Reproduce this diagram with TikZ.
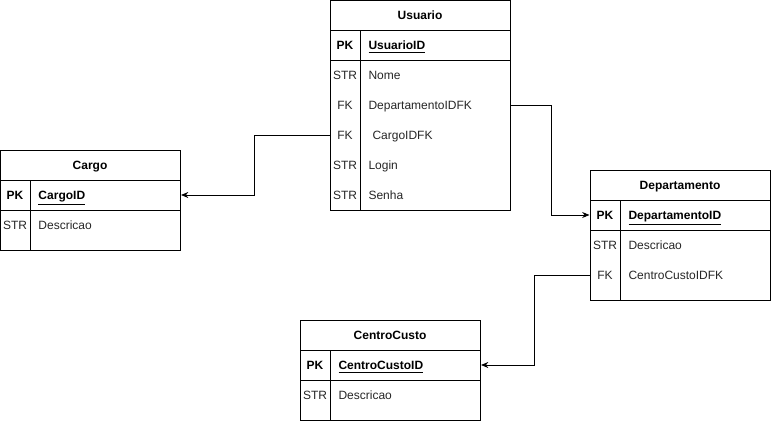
\documentclass[tikz,border=0pt]{standalone}
\usepackage{fontspec}
\setmainfont{Liberation Sans}
\usepackage{tikz}
\usetikzlibrary{positioning,calc,arrows.meta}

\tikzset{
  keycell/.style={minimum width=22.5pt, minimum height=22.5pt, inner sep=0pt, text height=7.7pt, text depth=0.5pt, text=black!85, font=\fontsize{9pt}{10pt}\selectfont},
  pkcell/.style={keycell, text=black, font=\fontsize{9pt}{10pt}\selectfont\bfseries},
  fieldcell/.style={minimum height=22.5pt, inner xsep=6pt, inner ysep=0pt, text height=7.7pt, text depth=0.5pt, text width=100.5pt, align=left, text=black!85, font=\fontsize{9pt}{10pt}\selectfont},
  pkfield/.style={fieldcell, text=black, font=\fontsize{9pt}{10pt}\selectfont\bfseries},
  titlecell/.style={minimum width=135pt, minimum height=22.5pt, inner sep=0pt, text height=7.7pt, text depth=0.5pt, font=\fontsize{9pt}{10pt}\selectfont\bfseries},
  fk/.style={line width=0.75pt, -{Stealth[length=5.5pt,width=4.5pt]}}
}

\begin{document}
\begin{tikzpicture}[x=0.75pt, y=-0.75pt, line width=0.75pt]
  \useasboundingbox (0,0) rectangle (771,421);

  % Usuario
  \draw (330.5,0.5) rectangle (510,210);
  \draw (330.5,30) -- (510,30);
  \draw (330.5,60) -- (510,60);
  \draw (360,30) -- (360,210);
  \node[titlecell] (u-title) at (420,15) {Usuario};
  \node[pkcell] (u-pk-k) at (345,45) {PK};
  \node[pkfield, anchor=west] (u-pk) at (360,45) {\underline{UsuarioID}};
  \node[keycell] (u-nome-k) at (345,75) {STR};
  \node[fieldcell, anchor=west] (u-nome) at (360,75) {Nome};
  \node[keycell] (u-depto-k) at (345,105) {FK};
  \node[fieldcell, anchor=west] (u-depto) at (360,105) {DepartamentoIDFK};
  \node[keycell] (u-cargo-k) at (345,135) {FK};
  \node[fieldcell, anchor=west] (u-cargo) at (360,135) {\ CargoIDFK};
  \node[keycell] (u-login-k) at (345,165) {STR};
  \node[fieldcell, anchor=west] (u-login) at (360,165) {Login};
  \node[keycell] (u-senha-k) at (345,195) {STR};
  \node[fieldcell, anchor=west] (u-senha) at (360,195) {Senha};

  % Cargo
  \draw (0.5,150.5) rectangle (180,250);
  \draw (0.5,180) -- (180,180);
  \draw (0.5,210) -- (180,210);
  \draw (30,180) -- (30,250);
  \node[titlecell] (c-title) at (90,165) {Cargo};
  \node[pkcell] (c-pk-k) at (15,195) {PK};
  \node[pkfield, anchor=west] (c-pk) at (30,195) {\underline{CargoID}};
  \node[keycell] (c-desc-k) at (15,225) {STR};
  \node[fieldcell, anchor=west] (c-desc) at (30,225) {Descricao};

  % Departamento
  \draw (590.5,170.5) rectangle (770,300);
  \draw (590.5,200) -- (770,200);
  \draw (590.5,230) -- (770,230);
  \draw (620,200) -- (620,300);
  \node[titlecell] (d-title) at (680,185) {Departamento};
  \node[pkcell] (d-pk-k) at (605,215) {PK};
  \node[pkfield, anchor=west] (d-pk) at (620,215) {\underline{DepartamentoID}};
  \node[keycell] (d-desc-k) at (605,245) {STR};
  \node[fieldcell, anchor=west] (d-desc) at (620,245) {Descricao};
  \node[keycell] (d-cc-k) at (605,275) {FK};
  \node[fieldcell, anchor=west] (d-cc) at (620,275) {CentroCustoIDFK};

  % CentroCusto
  \draw (300.5,320.5) rectangle (480,420);
  \draw (300.5,350) -- (480,350);
  \draw (300.5,380) -- (480,380);
  \draw (330,350) -- (330,420);
  \node[titlecell] (cc-title) at (390,335) {CentroCusto};
  \node[pkcell] (cc-pk-k) at (315,365) {PK};
  \node[pkfield, anchor=west] (cc-pk) at (330,365) {\underline{CentroCustoID}};
  \node[keycell] (cc-desc-k) at (315,395) {STR};
  \node[fieldcell, anchor=west] (cc-desc) at (330,395) {Descricao};

  % relacoes
  \draw[fk] (u-cargo-k.west) -- ++(-75,0) |- (c-pk.east);
  \draw[fk] (u-depto.east) -- ++(40,0) |- (d-pk-k.west);
  \draw[fk] (d-cc-k.west) -- ++(-55,0) |- (cc-pk.east);
\end{tikzpicture}
\end{document}
